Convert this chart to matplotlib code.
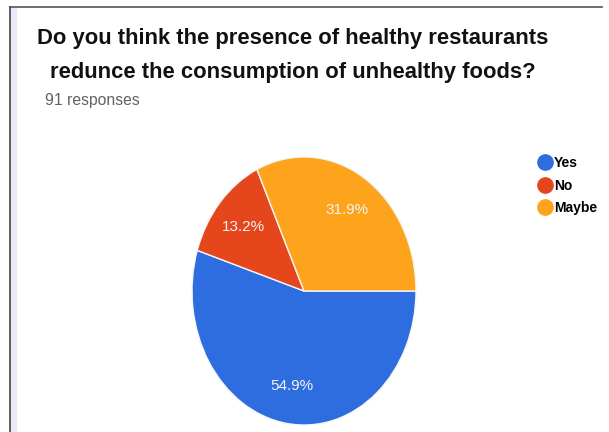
import matplotlib
matplotlib.use('Agg')
import matplotlib.pyplot as plt
from matplotlib.lines import Line2D
from matplotlib.patches import Rectangle

# Survey answers
answers = ['Yes', 'No', 'Maybe']
shares = [54.9, 13.2, 31.9]
colors = ['#2d6de0', '#e6461c', '#fda41c']
question = ('Do you think the presence of healthy restaurants\n'
            'redunce the consumption of unhealthy foods?')
responses = '91 responses'

W, H = 609, 432
fig = plt.figure(figsize=(W / 100, H / 100), dpi=100)
fig.patch.set_facecolor('white')

def px(x, y):
    # pixel position (top-left origin) -> figure fraction
    return x / W, 1 - y / H

# card frame: dark top / left edge plus a pale lavender strip
fig.add_artist(Line2D([10 / W, 602 / W], [1 - 6.5 / H] * 2, color='#555555', lw=1.2))
fig.add_artist(Line2D([10 / W] * 2, [0, 1 - 6.5 / H], color='#444444', lw=1.2))
fig.add_artist(Rectangle(px(11, 432), 6 / W, 425 / H, color='#ebe8f7', lw=0))

# title and response count
x0, y0 = px(293, 55.5)
fig.text(x0, y0, question, ha='center', va='center', fontsize=15.8,
         fontweight='bold', family='Liberation Sans', color='#111111',
         linespacing=1.85)
x0, y0 = px(45, 100)
fig.text(x0, y0, responses, ha='left', va='center', fontsize=11.3,
         family='Liberation Sans', color='#5f6368')

# pie drawn in a non-square box so it comes out as a tall ellipse
left, top, right, bottom = 192, 157, 416, 425
ax = fig.add_axes([left / W, 1 - bottom / H, (right - left) / W, (bottom - top) / H])
wedges, texts, autotexts = ax.pie(
    shares, colors=colors, startangle=0, counterclock=False,
    autopct='%.1f%%', pctdistance=0.72,
    wedgeprops=dict(edgecolor='#f5f5f5', linewidth=1.0),
    textprops=dict(color='#f4f4f4', fontsize=11, family='Liberation Sans'))
ax.set_aspect('auto')
ax.set_xlim(-1, 1)
ax.set_ylim(-1, 1)
ax.axis('off')

# legend on the right
handles = [Line2D([], [], marker='o', linestyle='', markersize=11,
                  markerfacecolor=c, markeredgecolor=c) for c in colors]
lx, ly = px(539, 156)
fig.legend(handles, answers, loc='upper left', bbox_to_anchor=(lx, ly),
           frameon=False, handlelength=0.8, handletextpad=0.3,
           labelspacing=0.62, borderpad=0, borderaxespad=0,
           prop=dict(family='Liberation Sans', weight='bold', size=10))

fig.savefig('out.png', dpi=100)
